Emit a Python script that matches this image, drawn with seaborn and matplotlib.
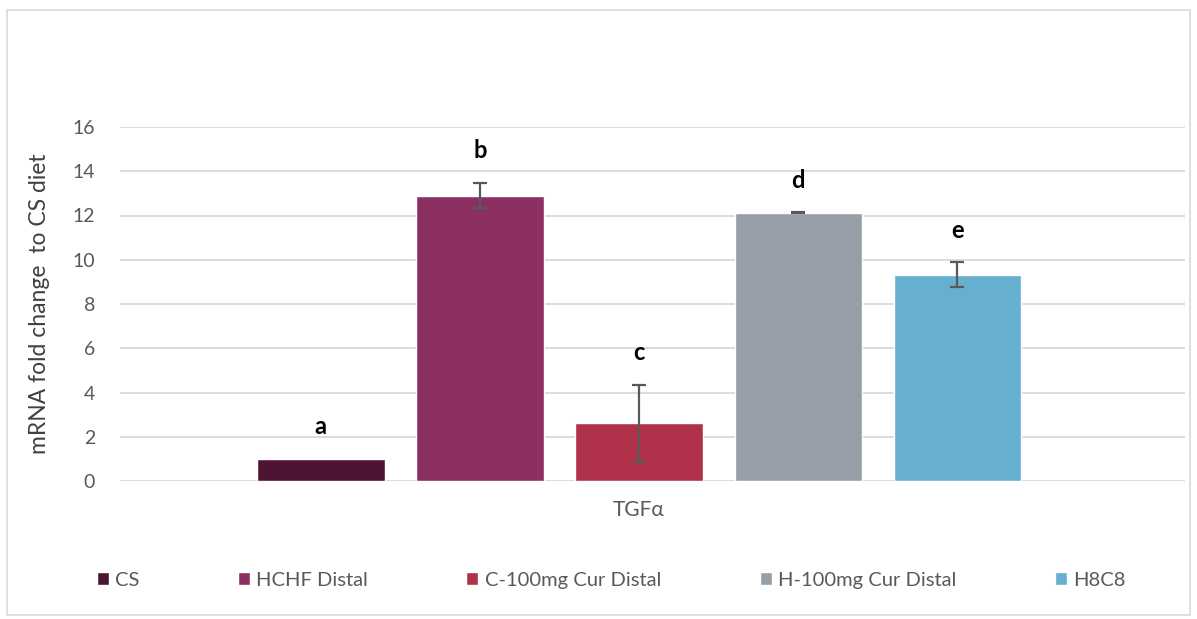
import pandas as pd
import numpy as np
import matplotlib.pyplot as plt
import seaborn as sns
from matplotlib.patches import Rectangle

# values
gene = ['TGFα'] * 5
groups = ['CS', 'HCHF Distal', 'C-100mg Cur Distal', 'H-100mg Cur Distal', 'H8C8']
fold_change = [1.0, 12.9, 2.6, 12.13, 9.33]
errors = [0.0, 0.58, 1.74, 0.02, 0.56]
letters = ['a', 'b', 'c', 'd', 'e']
colors = ['#4e1433', '#8c3061', '#b0314a', '#969ea8', '#66afce']

df = pd.DataFrame({'Gene': gene, 'Group': groups, 'Fold': fold_change})

sns.set_style('white')
plt.rcParams['font.family'] = ['Lato', 'DejaVu Sans']

fig = plt.figure(figsize=(11.97, 6.19), dpi=100)
ax = fig.add_axes([120 / 1197, 138 / 619, 1065 / 1197, 354 / 619])

sns.barplot(data=df, x='Gene', y='Fold', hue='Group', palette=colors,
            hue_order=groups, width=0.8, gap=0.2, saturation=1, ax=ax, legend=True)

# error bars and significance letters on the drawn bars
bars = [p for p in ax.patches if p.get_height() > 0][:5]
for bar, err, letter in zip(bars, errors, letters):
    cx = bar.get_x() + bar.get_width() / 2
    h = bar.get_height()
    if err > 0:
        ax.errorbar(cx, h, yerr=err, color='#595959', capsize=5, lw=1.6,
                    capthick=1.6, fmt='none', zorder=3)
    ax.text(cx, h + err + 1.45, letter, ha='center', va='center',
            fontsize=17, fontweight='bold', color='black')

ax.set_ylim(0, 16)
ax.set_yticks(range(0, 17, 2))
ax.set_xlim(-0.522, 0.549)
ax.yaxis.grid(True, color='#d9d9d9', lw=1.3)
ax.set_axisbelow(True)
sns.despine(ax=ax, left=True, bottom=True)
ax.tick_params(axis='y', length=0, pad=18, labelsize=14, labelcolor='#595959')
ax.tick_params(axis='x', length=0, pad=14, labelsize=15, labelcolor='#595959')
ax.set_xlabel('')
ax.set_ylabel('mRNA fold change  to CS diet', fontsize=16.5, color='#404040', labelpad=16)

handles, labels = ax.get_legend_handles_labels()
ax.legend(handles, labels, loc='center', bbox_to_anchor=(0.461, -0.28), ncol=5,
          frameon=False, fontsize=14.5, handlelength=0.6, handleheight=0.6,
          handletextpad=0.3, columnspacing=4.9, labelcolor='#595959')

fig.patches.append(Rectangle((7 / 1197, 4 / 619), 1183 / 1197, 605 / 619,
                             transform=fig.transFigure, fill=False,
                             edgecolor='#d9d9d9', lw=1.2))

fig.savefig('out.png', dpi=100)
